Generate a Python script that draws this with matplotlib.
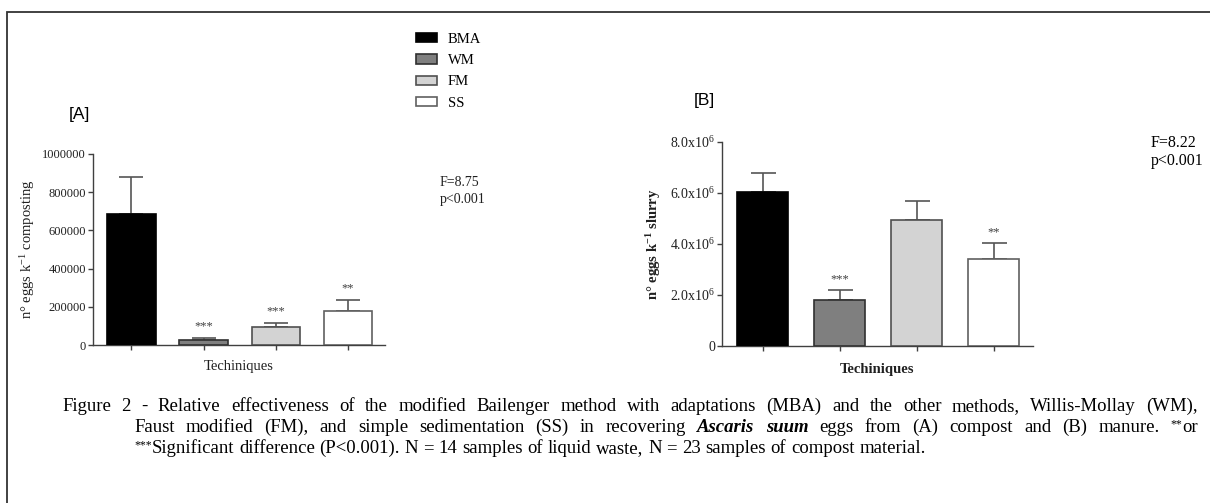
import matplotlib
matplotlib.use("Agg")
import matplotlib.pyplot as plt
from matplotlib.patches import Rectangle

W, H = 1210, 503

# ---------------- data ----------------
categories = ["BMA", "WM", "FM", "SS"]
bar_colors = ["#000000", "#7f7f7f", "#d3d3d3", "#ffffff"]
edge_colors = ["#000000", "#303030", "#505050", "#606060"]

compost_mean = [686000, 28000, 94000, 178000]
compost_err = [194000, 9000, 23000, 58000]
compost_sig = ["", "***", "***", "**"]
compost_yticks = [0, 200000, 400000, 600000, 800000, 1000000]
compost_yticklabels = ["0", "200000", "400000", "600000", "800000", "1000000"]

slurry_mean = [6.04e6, 1.80e6, 4.94e6, 3.41e6]
slurry_err = [0.74e6, 0.38e6, 0.75e6, 0.63e6]
slurry_sig = ["", "***", "", "**"]
slurry_yticks = [0, 2e6, 4e6, 6e6, 8e6]
slurry_yticklabels = ["0", r"$2.0\mathrm{x}10^{6}$", r"$4.0\mathrm{x}10^{6}$",
                      r"$6.0\mathrm{x}10^{6}$", r"$8.0\mathrm{x}10^{6}$"]

plt.rcParams["font.family"] = ["Liberation Serif", "DejaVu Serif"]
plt.rcParams["mathtext.fontset"] = "custom"
plt.rcParams["mathtext.rm"] = "Liberation Serif"
plt.rcParams["mathtext.it"] = "Liberation Serif:italic"
plt.rcParams["mathtext.bf"] = "Liberation Serif:bold"

fig = plt.figure(figsize=(W / 100, H / 100), dpi=100)


def fx(px):
    return px / W


def fy(py):
    return 1 - py / H


def axes_px(l, r, t, b):
    return fig.add_axes([fx(l), fy(b), (r - l) / W, (b - t) / H])


AX_COL = "#404040"


def style_axes(ax, ylim, yticks, ylabels, tick_fs):
    for s in ["top", "right"]:
        ax.spines[s].set_visible(False)
    for s in ["left", "bottom"]:
        ax.spines[s].set_color(AX_COL)
        ax.spines[s].set_linewidth(1.0)
    ax.set_ylim(*ylim)
    ax.set_xlim(-0.53, 3.51)
    ax.set_xticks(range(len(categories)))
    ax.set_xticklabels([])
    ax.set_yticks(yticks)
    ax.set_yticklabels(ylabels, fontsize=tick_fs, color="#202020")
    ax.tick_params(axis="both", direction="out", length=3.5, width=1.0,
                   color=AX_COL, pad=1.5)
    ax.patch.set_alpha(0)


def draw_bars(ax, means, errs, width, sigs, capsize):
    x = list(range(len(categories)))
    bars = ax.bar(x, means, width=width, color=bar_colors,
                  edgecolor=edge_colors, linewidth=1.2, zorder=3)
    ax.errorbar(x, means, yerr=[[0] * len(errs), errs], fmt="none",
                ecolor="#555555", elinewidth=1.2, capsize=capsize,
                capthick=1.2, zorder=2)
    for xi, m, e, s in zip(x, means, errs, sigs):
        if s:
            ax.annotate(s, (xi, m + e), xytext=(0, 8), textcoords="offset points",
                        ha="center", va="center", fontsize=9, color="#404040")
    return bars


# ---------------- panel A ----------------
axA = axes_px(93, 385, 154, 345)
style_axes(axA, (0, 1000000), compost_yticks, compost_yticklabels, 9)
barsA = draw_bars(axA, compost_mean, compost_err, 0.67, compost_sig, 8.5)
axA.set_xlabel("Techiniques", fontsize=10.5, labelpad=6, color="#202020")
axA.set_ylabel(r"n° eggs k$^{-1}$ composting", fontsize=10.5, labelpad=4,
               color="#202020")

# ---------------- panel B ----------------
axB = axes_px(722, 1033, 142, 346)
style_axes(axB, (0, 8e6), slurry_yticks, slurry_yticklabels, 10)
draw_bars(axB, slurry_mean, slurry_err, 0.66, slurry_sig, 9)
axB.set_xlabel("Techiniques", fontsize=10.5, labelpad=7, fontweight="bold",
               color="#202020")
axB.set_ylabel(r"n° eggs k$^{\mathbf{-1}}$ slurry", fontsize=10.5, labelpad=5,
               fontweight="bold", color="#202020")

# ---------------- panel titles / stats ----------------
fig.text(fx(69), fy(115), "[A]", fontsize=12.5, family=["Liberation Sans"],
         va="center", ha="left")
fig.text(fx(694), fy(100), "[B]", fontsize=12.5, family=["Liberation Sans"],
         va="center", ha="left")
fig.text(fx(440), fy(182), "F=8.75", fontsize=10, va="center", ha="left",
         color="#202020")
fig.text(fx(440), fy(200), "p<0.001", fontsize=10, va="center", ha="left",
         color="#202020")
fig.text(fx(1151), fy(143), "F=8.22", fontsize=11.5, va="center", ha="left")
fig.text(fx(1151), fy(161), "p<0.001", fontsize=11.5, va="center", ha="left")

# ---------------- legend ----------------
fig.legend(barsA, categories, loc="upper left",
           bbox_to_anchor=(fx(416), fy(33)), frameon=False, fontsize=10.5,
           handlelength=1.45, handleheight=0.6, handletextpad=0.75,
           labelspacing=0.56, borderpad=0, borderaxespad=0)

# ---------------- frame ----------------
fig.patches.append(Rectangle((fx(7), fy(540)), fx(1300), (540 - 12) / H,
                             transform=fig.transFigure, fill=False,
                             edgecolor="#333333", linewidth=1.3))

# ---------------- caption (justified) ----------------
renderer = fig.canvas.get_renderer()
CAP_FS = 13.5
RIGHT = 1198
BI = {"fontweight": "bold", "fontstyle": "italic"}
SUP = {"fontsize": 8.5, "dy": 5}


def run_w(s, kw):
    kw = dict(kw)
    kw.pop("dy", None)
    fs = kw.pop("fontsize", CAP_FS)
    t = fig.text(0, 0, s, fontsize=fs, **kw)
    w = t.get_window_extent(renderer).width
    t.remove()
    return w


def words_of(runs):
    words = []
    for s, kw in runs:
        if kw.get("glue") and words:
            k2 = dict(kw)
            k2.pop("glue")
            words[-1].append((s, k2))
            continue
        for wd in s.split(" "):
            if wd:
                words.append([(wd, kw)])
    return words


def put_line(x0, y, runs, justify):
    words = words_of(runs)
    widths = [sum(run_w(s, kw) for s, kw in wd) for wd in words]
    space = run_w("a a", {}) - run_w("aa", {})
    if justify and len(words) > 1:
        space = (RIGHT - x0 - sum(widths)) / (len(words) - 1)
    x = x0
    for wd, w in zip(words, widths):
        xx = x
        for s, kw in wd:
            kw = dict(kw)
            dy = kw.pop("dy", 0)
            fs = kw.pop("fontsize", CAP_FS)
            fig.text(fx(xx), fy(y - dy), s, fontsize=fs, va="baseline",
                     ha="left", **kw)
            xx += run_w(s, dict(kw, fontsize=fs))
        x += w + space


put_line(62, 411, [("Figure 2 - Relative effectiveness of the modified Bailenger "
                    "method with adaptations (MBA) and the other methods, "
                    "Willis-Mollay (WM),", {})], True)
put_line(134, 432, [("Faust modified (FM), and simple sedimentation (SS) in "
                     "recovering", {}), ("Ascaris suum", BI),
                    ("eggs from (A) compost and (B) manure.", {}),
                    ("**", SUP), ("or", {"glue": True})], True)
put_line(134, 453, [("***", SUP),
                    ("Significant", {"glue": True}),
                    ("difference (P<0.001). N = 14 samples of liquid "
                     "waste, N = 23 samples of compost material.", {})], False)

fig.savefig("out.png", dpi=100)
